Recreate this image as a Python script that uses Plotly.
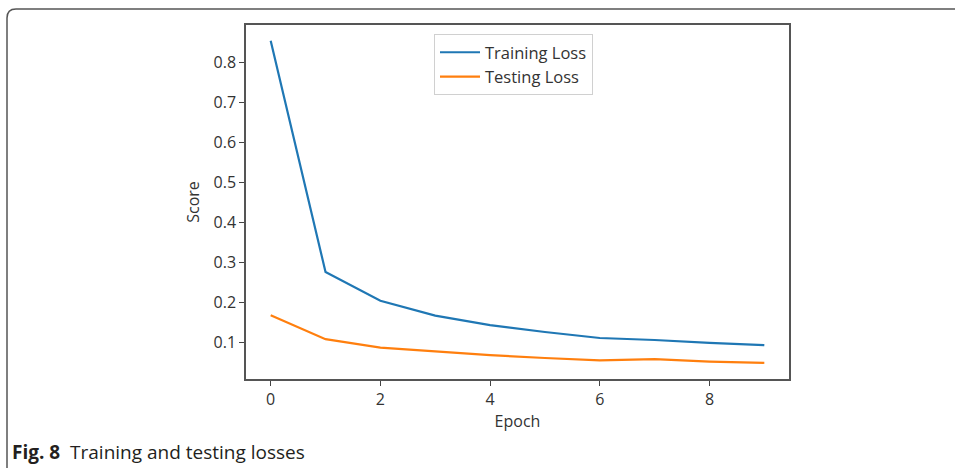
import plotly.graph_objects as go

epochs = [0, 1, 2, 3, 4, 5, 6, 7, 8, 9]
training_loss = [0.854, 0.276, 0.204, 0.167, 0.143, 0.126, 0.111, 0.106, 0.099, 0.093]
testing_loss = [0.168, 0.108, 0.087, 0.078, 0.068, 0.061, 0.055, 0.058, 0.052, 0.049]
x_ticks = [0, 2, 4, 6, 8]
y_ticks = [0.1, 0.2, 0.3, 0.4, 0.5, 0.6, 0.7, 0.8]

W, H = 955, 468
L, R, T, B = 246, 789, 25, 379

def px(x):
    return (x - L) / (R - L)

def py(y):
    return (B - y) / (B - T)

font_fam = "Open Sans, Noto Sans, DejaVu Sans, sans-serif"

fig = go.Figure()
fig.add_trace(go.Scatter(x=epochs, y=training_loss, mode="lines", name="Training Loss",
                         line=dict(color="#1f77b4", width=2.2)))
fig.add_trace(go.Scatter(x=epochs, y=testing_loss, mode="lines", name="Testing Loss",
                         line=dict(color="#ff7f0e", width=2.2)))

r = 9
path = (f"M {px(7)},{py(490)} L {px(7)},{py(9 + r)} "
        f"Q {px(7)},{py(9)} {px(7 + r)},{py(9)} L {px(990)},{py(9)}")

fig.update_layout(
    width=W, height=H,
    margin=dict(l=L, r=W - R, t=T, b=H - B),
    paper_bgcolor="white", plot_bgcolor="white",
    font=dict(family=font_fam, size=16, color="#333333"),
    showlegend=True,
    legend=dict(x=px(434), y=py(34), xanchor="left", yanchor="top",
                bordercolor="#d0d0d0", borderwidth=1, bgcolor="white",
                font=dict(size=16.5, color="#333333"),
                tracegroupgap=0, itemwidth=40),
    xaxis=dict(range=[-0.45, 9.45], tickvals=x_ticks, ticks="outside", ticklen=5,
               tickcolor="#444", showgrid=False, zeroline=False,
               showline=True, linecolor="#555", linewidth=1.5, mirror=True,
               title=dict(text="Epoch", font=dict(size=16), standoff=6),
               tickfont=dict(size=16)),
    yaxis=dict(range=[0.0085, 0.8935], tickvals=y_ticks, ticks="outside", ticklen=5,
               tickcolor="#444", showgrid=False, zeroline=False,
               showline=True, linecolor="#555", linewidth=1.5, mirror=True,
               tickformat=".1f",
               title=dict(text="Score", font=dict(size=16), standoff=10),
               tickfont=dict(size=16)),
    shapes=[dict(type="path", xref="paper", yref="paper", path=path,
                 line=dict(color="#555555", width=1.5), layer="above")],
    annotations=[dict(xref="paper", yref="paper", x=px(10), y=py(452),
                      xanchor="left", yanchor="middle", showarrow=False,
                      text="<b>Fig. 8</b>  Training and testing losses",
                      font=dict(family=font_fam, size=19, color="#231f20"))],
)

fig.write_html("out.html",
               config={"displayModeBar": False},
               post_script="document.body.style.margin='0';document.body.style.overflow='hidden';")
